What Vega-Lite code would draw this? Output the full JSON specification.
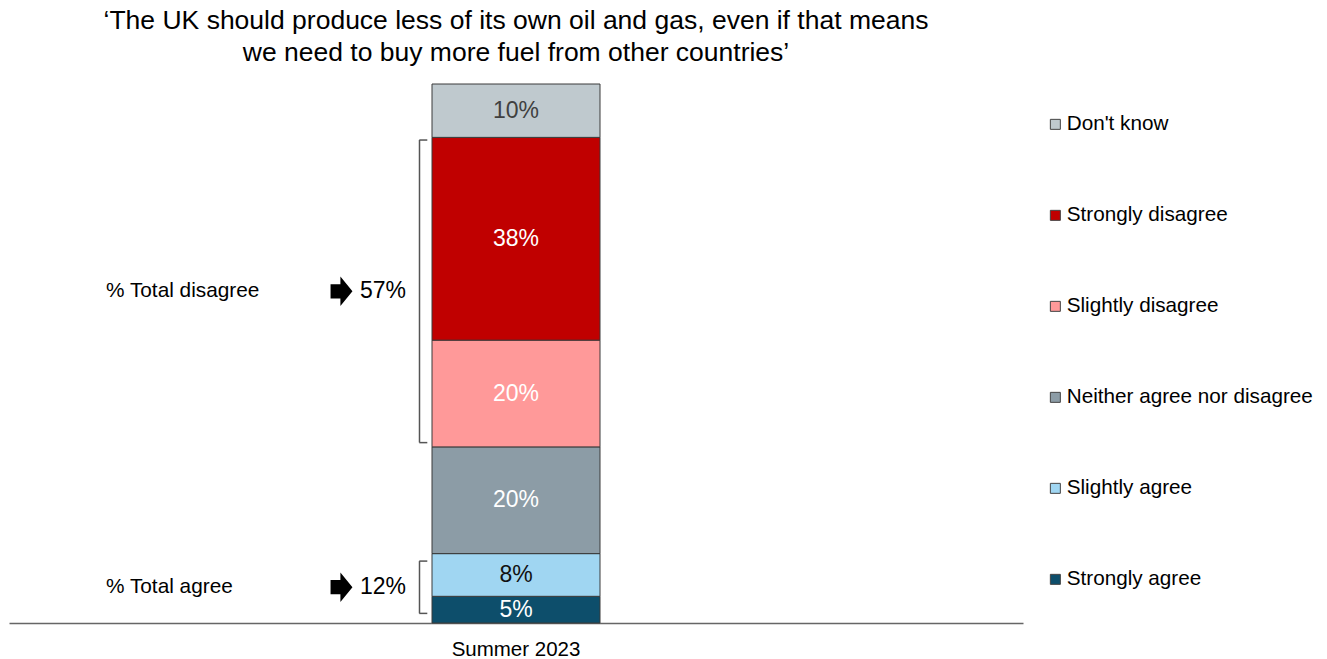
{
  "$schema": "https://vega.github.io/schema/vega-lite/v6.json",
  "width": 1014,
  "height": 539,
  "padding": {"left": 9, "top": 8, "right": 0, "bottom": 0},
  "config": {
    "view": {"stroke": null},
    "font": "Liberation Sans",
    "text": {"font": "Liberation Sans"}
  },
  "title": {
    "text": ["‘The UK should produce less of its own oil and gas, even if that means", "we need to buy more fuel from other countries’"],
    "fontSize": 26.5,
    "fontWeight": "normal",
    "lineHeight": 32,
    "anchor": "middle",
    "color": "black",
    "offset": 17,
    "font": "Liberation Sans"
  },
  "datasets": {
    "responses": [
      {"period": "Summer 2023", "response": "Strongly agree", "pct": 5, "rank": 1},
      {"period": "Summer 2023", "response": "Slightly agree", "pct": 8, "rank": 2},
      {"period": "Summer 2023", "response": "Neither agree nor disagree", "pct": 20, "rank": 3},
      {"period": "Summer 2023", "response": "Slightly disagree", "pct": 20, "rank": 4},
      {"period": "Summer 2023", "response": "Strongly disagree", "pct": 38, "rank": 5},
      {"period": "Summer 2023", "response": "Don't know", "pct": 10, "rank": 6}
    ],
    "groups": [
      {"period": "Summer 2023", "group": "% Total disagree", "total": "57%", "lo": 33.8, "hi": 90.5},
      {"period": "Summer 2023", "group": "% Total agree", "total": "12%", "lo": 1.8, "hi": 11.6}
    ]
  },
  "layer": [
    {
      "data": {"name": "responses"},
      "transform": [
        {"stack": "pct", "groupby": ["period"], "sort": [{"field": "rank"}], "as": ["v0", "v1"]}
      ],
      "mark": {"type": "bar", "width": 168, "stroke": "#3a3a3a", "strokeWidth": 1},
      "encoding": {
        "x": {
          "field": "period", "type": "nominal",
          "axis": {"title": null, "labelAngle": 0, "labelFontSize": 20.5, "labelColor": "black", "ticks": false, "domainColor": "#666", "domainWidth": 1.5, "labelPadding": 16, "labelFont": "Liberation Sans"}
        },
        "y": {"field": "v0", "type": "quantitative", "scale": {"domain": [0, 101], "nice": false}, "axis": null},
        "y2": {"field": "v1"},
        "color": {
          "field": "response", "type": "nominal",
          "scale": {
            "domain": ["Don't know", "Strongly disagree", "Slightly disagree", "Neither agree nor disagree", "Slightly agree", "Strongly agree"],
            "range": ["#BFC9CE", "#C00000", "#FF9999", "#8C9CA6", "#A0D6F2", "#0D4E6B"]
          },
          "legend": {
            "orient": "none", "legendX": 1036, "legendY": 30, "title": null,
            "symbolType": "square", "symbolSize": 100, "symbolStrokeColor": "#444", "symbolStrokeWidth": 1,
            "labelFontSize": 20.7, "labelColor": "black", "labelFont": "Liberation Sans",
            "rowPadding": 69, "labelOffset": 1, "padding": 0, "labelLimit": 400
          }
        }
      }
    },
    {
      "data": {"name": "responses"},
      "transform": [
        {"stack": "pct", "groupby": ["period"], "sort": [{"field": "rank"}], "as": ["v0", "v1"]},
        {"calculate": "(datum.v0 + datum.v1) / 2", "as": "mid"},
        {"calculate": "datum.pct + '%'", "as": "label"}
      ],
      "mark": {"type": "text", "fontSize": 23, "baseline": "middle"},
      "encoding": {
        "x": {"field": "period", "type": "nominal"},
        "y": {"field": "mid", "type": "quantitative"},
        "text": {"field": "label"},
        "color": {
          "condition": [
            {"test": "datum.rank == 6", "value": "#404040"},
            {"test": "datum.rank == 2", "value": "#111111"}
          ],
          "value": "white"
        }
      }
    },
    {
      "data": {"name": "groups"},
      "transform": [{"calculate": "(datum.lo + datum.hi) / 2", "as": "mid"}],
      "mark": {"type": "text", "align": "left", "baseline": "middle", "dx": -410, "fontSize": 20.8, "color": "black"},
      "encoding": {
        "x": {"field": "period", "type": "nominal"},
        "y": {"field": "mid", "type": "quantitative"},
        "text": {"field": "group"}
      }
    },
    {
      "data": {"name": "groups"},
      "transform": [{"calculate": "(datum.lo + datum.hi) / 2", "as": "mid"}],
      "mark": {"type": "text", "align": "left", "baseline": "middle", "dx": -156, "fontSize": 23, "color": "black"},
      "encoding": {
        "x": {"field": "period", "type": "nominal"},
        "y": {"field": "mid", "type": "quantitative"},
        "text": {"field": "total"}
      }
    },
    {
      "data": {"name": "groups"},
      "transform": [{"calculate": "(datum.lo + datum.hi) / 2", "as": "mid"}],
      "mark": {
        "type": "point", "filled": true, "color": "black", "opacity": 1, "size": 480, "xOffset": -174.5,
        "shape": "M-1,-0.65 L-0.1,-0.65 L-0.1,-1.35 L1,0 L-0.1,1.35 L-0.1,0.65 L-1,0.65 Z"
      },
      "encoding": {
        "x": {"field": "period", "type": "nominal"},
        "y": {"field": "mid", "type": "quantitative"}
      }
    },
    {
      "data": {"name": "groups"},
      "mark": {"type": "rule", "color": "#555", "strokeWidth": 1.5, "xOffset": -96.5},
      "encoding": {
        "x": {"field": "period", "type": "nominal"},
        "y": {"field": "lo", "type": "quantitative"},
        "y2": {"field": "hi"}
      }
    },
    {
      "data": {"name": "groups"},
      "mark": {"type": "tick", "color": "#555", "thickness": 1.5, "size": 8, "xOffset": -92.7, "opacity": 1},
      "encoding": {
        "x": {"field": "period", "type": "nominal"},
        "y": {"field": "lo", "type": "quantitative"}
      }
    },
    {
      "data": {"name": "groups"},
      "mark": {"type": "tick", "color": "#555", "thickness": 1.5, "size": 8, "xOffset": -92.7, "opacity": 1},
      "encoding": {
        "x": {"field": "period", "type": "nominal"},
        "y": {"field": "hi", "type": "quantitative"}
      }
    }
  ]
}
